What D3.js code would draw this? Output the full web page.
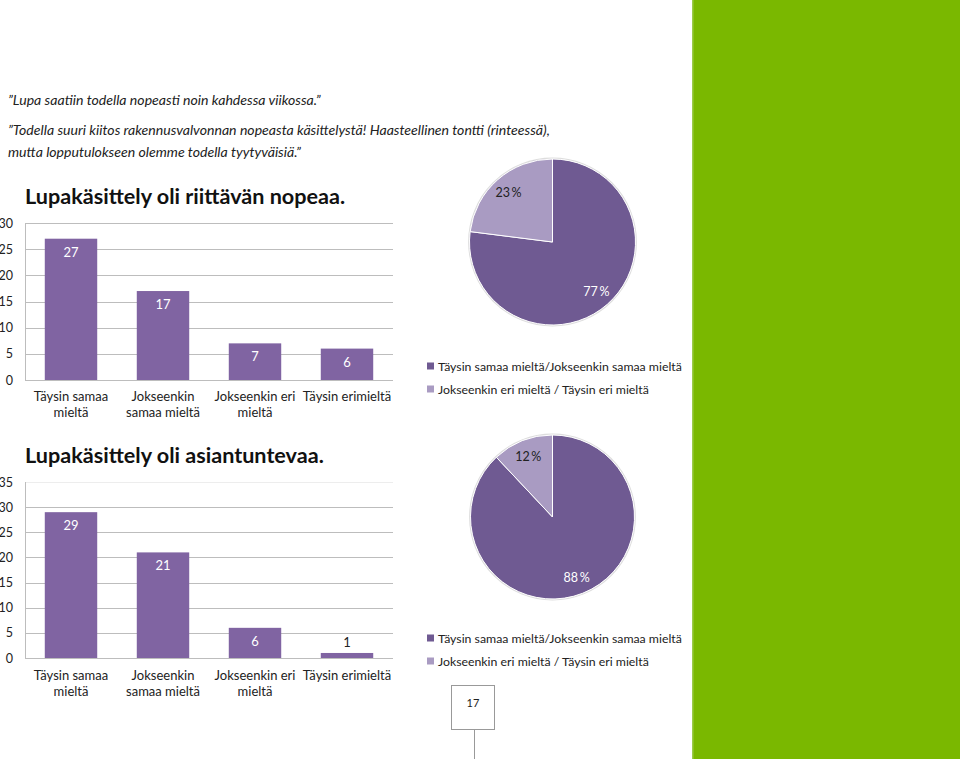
<!DOCTYPE html>
<html>
<head>
<meta charset="utf-8">
<script src="https://cdn.jsdelivr.net/npm/d3@7"></script>
<style>
  html, body { margin: 0; padding: 0; background: #fff; }
  svg { display: block; }
  text { font-family: Lato, "Open Sans", sans-serif; }
</style>
</head>
<body>
<svg id="c" width="960" height="759"></svg>
<script>
// ---- data ----
const quotes = [
  "\u201dLupa saatiin todella nopeasti noin kahdessa viikossa.\u201d",
  "\u201dTodella suuri kiitos rakennusvalvonnan nopeasta käsittelystä! Haasteellinen tontti (rinteessä),",
  "mutta lopputulokseen olemme todella tyytyväisiä.\u201d"
];
const categories = [
  ["Täysin samaa", "mieltä"],
  ["Jokseenkin", "samaa mieltä"],
  ["Jokseenkin eri", "mieltä"],
  ["Täysin erimieltä"]
];
const speedTitle = "Lupakäsittely oli riittävän nopeaa.";
const speedValues = [27, 17, 7, 6];
const speedTicks = [0, 5, 10, 15, 20, 25, 30];
const expertTitle = "Lupakäsittely oli asiantuntevaa.";
const expertValues = [29, 21, 6, 1];
const expertTicks = [0, 5, 10, 15, 20, 25, 30, 35];
const pieLabels = ["Täysin samaa mieltä/Jokseenkin samaa mieltä", "Jokseenkin eri mieltä / Täysin eri mieltä"];
const speedPie = [77, 23];
const expertPie = [88, 12];
const pageNumber = "17";

// ---- drawing ----
const svg = d3.select("#c");
const barColor = "#8064A2";
const pieColors = ["#6F5A92", "#A99BC2"];
const gridColor = "#BDBDBD";

// green side panel
svg.append("rect").attr("x", 692).attr("y", 0).attr("width", 268).attr("height", 759).attr("fill", "#7AB800");
svg.append("rect").attr("x", 692).attr("y", 0).attr("width", 1.5).attr("height", 759).attr("fill", "#9CCB4A");

// quotes
const qy = [105, 135, 157];
svg.selectAll("text.quote").data(quotes).enter().append("text")
  .attr("class", "quote")
  .attr("x", 8).attr("y", (d, i) => qy[i])
  .attr("font-size", 14.1).attr("font-style", "italic").attr("fill", "#222")
  .text(d => d);

function barChart(cfg) {
  const g = svg.append("g");
  const x = d3.scaleBand().domain(d3.range(categories.length)).range([25, 393])
    .paddingInner(0.43).paddingOuter(0.215);
  const y = d3.scaleLinear().domain([0, cfg.max]).range([cfg.y0, cfg.y1]);

  // title
  g.append("text").attr("x", 25).attr("y", cfg.titleY)
    .attr("font-size", 21.6).attr("font-weight", "bold").attr("fill", "#111")
    .text(cfg.title);

  // gridlines
  g.selectAll("line.grid").data(cfg.ticks).enter().append("line")
    .attr("x1", 25).attr("x2", 393)
    .attr("y1", d => Math.round(y(d)) + 0.5).attr("y2", d => Math.round(y(d)) + 0.5)
    .attr("stroke", d => (d === cfg.max && cfg.fadeTop) ? "#EDEDED" : gridColor).attr("stroke-width", 1);
  // y axis line
  g.append("line").attr("x1", 25.5).attr("x2", 25.5).attr("y1", y(cfg.max)).attr("y2", y(0))
    .attr("stroke", gridColor);

  // y tick labels
  const ax = d3.axisLeft(y).tickValues(cfg.ticks).tickSize(0).tickPadding(0);
  const axG = g.append("g").attr("transform", "translate(13,0)").call(ax);
  axG.select(".domain").remove();
  axG.selectAll("text").attr("font-size", 12.5).attr("fill", "#222")
    .attr("font-family", "Lato, 'Open Sans', sans-serif");

  // bars
  g.selectAll("rect.bar").data(cfg.values).enter().append("rect")
    .attr("x", (d, i) => x(i)).attr("width", x.bandwidth())
    .attr("y", d => y(d)).attr("height", d => y(0) - y(d))
    .attr("fill", barColor);

  // value labels
  g.selectAll("text.val").data(cfg.values).enter().append("text")
    .attr("x", (d, i) => x(i) + x.bandwidth() / 2)
    .attr("y", d => (y(0) - y(d) > 20) ? y(d) + 18 : y(d) - 6)
    .attr("text-anchor", "middle").attr("font-size", 13)
    .attr("fill", d => (y(0) - y(d) > 20) ? "#fff" : "#222")
    .text(d => d);

  // category labels
  categories.forEach((lines, i) => {
    const t = g.append("text").attr("text-anchor", "middle").attr("font-size", 13).attr("fill", "#222");
    lines.forEach((l, j) => {
      t.append("tspan").attr("x", x(i) + x.bandwidth() / 2).attr("y", cfg.labelY + j * 16).text(l);
    });
  });
}

barChart({ title: speedTitle, titleY: 204, values: speedValues, ticks: speedTicks, max: 30, y0: 380, y1: 223, labelY: 401, fadeTop: false });
barChart({ title: expertTitle, titleY: 463, values: expertValues, ticks: expertTicks, max: 35, y0: 658, y1: 482, labelY: 680, fadeTop: true });

function pieChart(cfg) {
  const g = svg.append("g").attr("transform", `translate(${cfg.cx},${cfg.cy})`);
  const pie = d3.pie().sort(null).value(d => d);
  const arc = d3.arc().innerRadius(0).outerRadius(cfg.r);
  const labelArc = d3.arc().innerRadius(cfg.r * 0.8).outerRadius(cfg.r * 0.8);
  const arcs = pie(cfg.values);
  g.append("circle").attr("r", cfg.r + 0.8).attr("fill", "none").attr("stroke", "#DDD").attr("stroke-width", 1.2);
  g.selectAll("path").data(arcs).enter().append("path")
    .attr("d", arc).attr("fill", (d, i) => pieColors[i])
    .attr("stroke", "#fff").attr("stroke-width", 1);
  g.selectAll("text").data(arcs).enter().append("text")
    .attr("transform", d => `translate(${labelArc.centroid(d)})`)
    .attr("text-anchor", "middle").attr("dominant-baseline", "central")
    .attr("font-size", 12.5).attr("fill", (d, i) => i === 0 ? "#fff" : "#222")
    .text(d => d.data + "\u2009%");

  // legend
  const lg = svg.append("g");
  pieLabels.forEach((lab, i) => {
    const ly = cfg.legendY + i * 23;
    lg.append("rect").attr("x", 427).attr("y", ly - 3.5).attr("width", 7).attr("height", 7).attr("fill", pieColors[i]);
    lg.append("text").attr("x", 438).attr("y", ly).attr("dominant-baseline", "central")
      .attr("font-size", 12.3).attr("fill", "#222").text(lab);
  });
}

pieChart({ values: speedPie, cx: 552.5, cy: 242, r: 83, legendY: 366 });
pieChart({ values: expertPie, cx: 552.5, cy: 517, r: 82, legendY: 638 });

// page number box
svg.append("rect").attr("x", 451.5).attr("y", 685.5).attr("width", 43).attr("height", 44)
  .attr("fill", "#fff").attr("stroke", "#999");
svg.append("line").attr("x1", 474.5).attr("x2", 474.5).attr("y1", 730).attr("y2", 759).attr("stroke", "#999");
svg.append("text").attr("x", 473).attr("y", 702).attr("text-anchor", "middle").attr("dominant-baseline", "central")
  .attr("font-size", 11).attr("fill", "#222").text(pageNumber);
</script>
</body>
</html>
